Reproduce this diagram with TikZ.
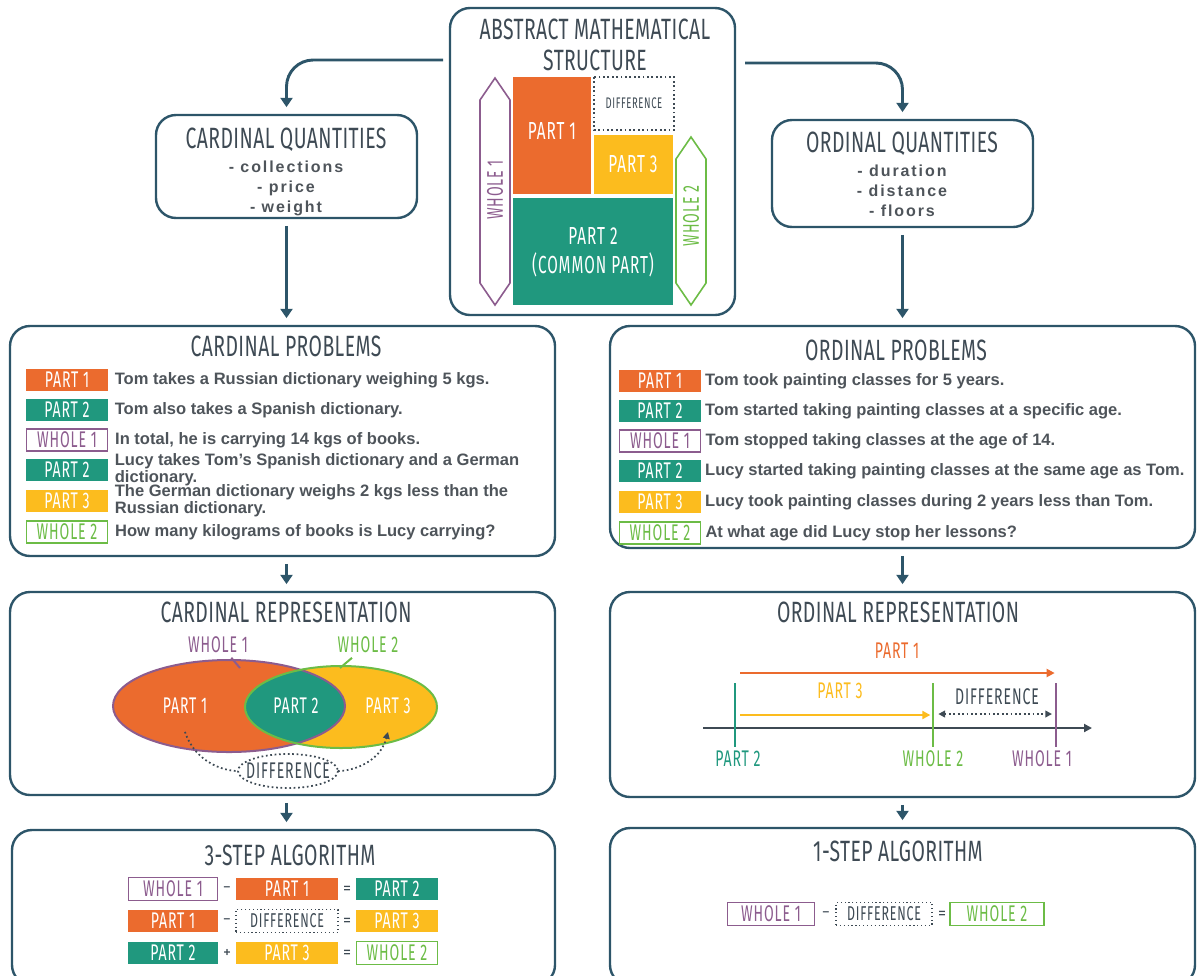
\documentclass[tikz,border=0pt]{standalone}
\usepackage{fontspec}
\setmainfont{Liberation Sans}
\newfontfamily\headfont[FakeStretch=0.66,LetterSpace=1.5]{Fira Sans}
\newfontfamily\tagfont[FakeStretch=0.62,LetterSpace=4]{Fira Sans}
\newfontfamily\listfont[LetterSpace=12]{Liberation Sans}
\usetikzlibrary{arrows.meta,positioning,fit}

\definecolor{boxC}{RGB}{45,85,105}
\definecolor{titleC}{RGB}{62,74,84}
\definecolor{txtC}{RGB}{78,84,90}
\definecolor{orangeC}{RGB}{235,107,46}
\definecolor{tealC}{RGB}{32,152,126}
\definecolor{yellowC}{RGB}{252,188,30}
\definecolor{purpleC}{RGB}{140,92,142}
\definecolor{greenC}{RGB}{108,188,70}

\begin{document}
\begin{tikzpicture}[x=0.75pt, y=-0.75pt,
  panel/.style={draw=boxC, line width=1.8pt, rounded corners=15pt, inner sep=0pt},
  heading/.style={font=\headfont\fontsize{22}{23}\selectfont, text=titleC, align=center},
  items/.style={font=\listfont\bfseries\fontsize{12}{15}\selectfont, text=txtC, align=center},
  flow/.style={draw=boxC, line width=2.2pt, -{Triangle[length=7pt,width=9pt]}, shorten <=5pt, shorten >=5pt},
  tag/.style={font=\tagfont\fontsize{17}{17}\selectfont, minimum width=61pt, minimum height=16.5pt, inner sep=0pt},
  part1/.style={tag, fill=orangeC, text=white},
  part2/.style={tag, fill=tealC, text=white},
  part3/.style={tag, fill=yellowC, text=white},
  whole1/.style={tag, draw=purpleC, line width=0.9pt, text=purpleC},
  whole2/.style={tag, draw=greenC, line width=0.9pt, text=greenC},
  diffbox/.style={tag, draw=titleC, dotted, line width=0.9pt, text=titleC, font=\tagfont\fontsize{15}{15}\selectfont},
  colA/.style={minimum width=67pt, minimum height=17pt},
  colB/.style={minimum width=76.5pt, minimum height=17pt},
  colC/.style={minimum width=61pt, minimum height=17pt},
  prob/.style={font=\bfseries\fontsize{12.4}{10.4}\selectfont, text=txtC, align=left, inner sep=0pt},
  lab/.style={font=\tagfont\fontsize{17}{17}\selectfont},
  biglab/.style={font=\tagfont\fontsize{18.5}{22}\selectfont, text=white, align=center},
  dotline/.style={draw=titleC, dotted, line width=1.3pt},
  op/.style={font=\bfseries\fontsize{9}{9}\selectfont, text=titleC}
]
\useasboundingbox (0,0) rectangle (1201,975);

% panels
\node[panel, fit={(450,8) (735,315)}] (abs) {};
\node[panel, fit={(156,115) (417,218)}] (cardq) {};
\node[panel, fit={(772,120) (1033,227)}] (ordq) {};
\node[panel, fit={(10,326) (555,556)}] (cardp) {};
\node[panel, fit={(610,326) (1195,548)}] (ordp) {};
\node[panel, fit={(10,592) (555,795)}] (cardr) {};
\node[panel, fit={(610,592) (1195,797)}] (ordr) {};
\node[panel, fit={(12,830) (555,985)}] (carda) {};
\node[panel, fit={(610,828) (1195,985)}] (orda) {};

% flow between panels
\coordinate (absl) at (443,60);
\coordinate (absr) at (745,63);
\draw[flow, rounded corners=20pt, shorten <=0pt] (absl) -| (cardq.north);
\draw[flow, rounded corners=20pt, shorten <=0pt] (absr) -| (ordq.north);
\draw[flow] (cardq.south) -- (cardq.south |- cardp.north);
\draw[flow] (ordq.south) -- (ordq.south |- ordp.north);
\draw[flow] (cardq.south |- cardp.south) -- (cardq.south |- cardr.north);
\draw[flow] (ordq.south |- ordp.south) -- (ordq.south |- ordr.north);
\draw[flow] (cardq.south |- cardr.south) -- (cardq.south |- carda.north);
\draw[flow] (ordq.south |- ordr.south) -- (ordq.south |- orda.north);

% abstract structure
\node[heading] (abst) at (595,45) {ABSTRACT MATHEMATICAL\\STRUCTURE};
\fill[orangeC] (513,77) rectangle (591,194);
\draw[titleC, dotted, line width=1.3pt] (594,77) rectangle (674,130);
\fill[yellowC] (594,135) rectangle (673,194);
\fill[tealC] (513,198) rectangle (673,305);
\draw[purpleC, line width=1.2pt] (495,78) -- (510,100) -- (510,283) -- (495,305) -- (480,283) -- (480,100) -- cycle;
\draw[greenC, line width=1.2pt] (691,137) -- (706,159) -- (706,283) -- (691,305) -- (676,283) -- (676,159) -- cycle;
\node[biglab] (s1) at (552,131) {PART 1};
\node[font=\tagfont\fontsize{11.5}{11.5}\selectfont, text=titleC] (sd) at (634,103) {DIFFERENCE};
\node[biglab] (s3) at (633,164) {PART 3};
\node[biglab] (s2) at (593,252) {PART 2\\(COMMON PART)};
\node[lab, text=purpleC, rotate=90] (sw1) at (495,190) {WHOLE 1};
\node[lab, text=greenC, rotate=90] (sw2) at (691,216) {WHOLE 2};

% quantities
\node[heading] (cqt) at (286,140) {CARDINAL QUANTITIES};
\node[items] (cqi) at (286,188) {- collections\\- price\\- weight};
\node[heading] (oqt) at (902,144) {ORDINAL QUANTITIES};
\node[items] (oqi) at (902,191) {- duration\\- distance\\- floors};

% cardinal problems
\node[heading] (cpt) at (286,346) {CARDINAL PROBLEMS};
\node[part1] (cp1) at (67,380) {PART 1};
\node[part2] (cp2) at (67,410) {PART 2};
\node[whole1] (cp3) at (67,440) {WHOLE 1};
\node[part2] (cp4) at (67,470) {PART 2};
\node[part3] (cp5) at (67,501) {PART 3};
\node[whole2] (cp6) at (67,532) {WHOLE 2};
\node[prob, right=5pt of cp1] (cp1t) {Tom takes a Russian dictionary weighing 5 kgs.};
\node[prob, right=5pt of cp2] (cp2t) {Tom also takes a Spanish dictionary.};
\node[prob, right=5pt of cp3] (cp3t) {In total, he is carrying 14 kgs of books.};
\node[prob, right=5pt of cp4] (cp4t) {Lucy takes Tom’s Spanish dictionary and a German\\dictionary.};
\node[prob, right=5pt of cp5] (cp5t) {The German dictionary weighs 2 kgs less than the\\Russian dictionary.};
\node[prob, right=5pt of cp6] (cp6t) {How many kilograms of books is Lucy carrying?};

% ordinal problems
\node[heading] (opt) at (896,350) {ORDINAL PROBLEMS};
\node[part1] (op1) at (660,381) {PART 1};
\node[part2] (op2) at (660,411) {PART 2};
\node[whole1] (op3) at (660,441) {WHOLE 1};
\node[part2] (op4) at (660,471) {PART 2};
\node[part3] (op5) at (660,502) {PART 3};
\node[whole2] (op6) at (660,533) {WHOLE 2};
\node[prob, right=3pt of op1] (op1t) {Tom took painting classes for 5 years.};
\node[prob, right=3pt of op2] (op2t) {Tom started taking painting classes at a specific age.};
\node[prob, right=3pt of op3] (op3t) {Tom stopped taking classes at the age of 14.};
\node[prob, right=3pt of op4] (op4t) {Lucy started taking painting classes at the same age as Tom.};
\node[prob, right=3pt of op5] (op5t) {Lucy took painting classes during 2 years less than Tom.};
\node[prob, right=3pt of op6] (op6t) {At what age did Lucy stop her lessons?};

% cardinal representation
\node[heading] (crt) at (286,612) {CARDINAL REPRESENTATION};
\fill[orangeC] (229,706) ellipse [x radius=116, y radius=46];
\fill[yellowC] (341,707) ellipse [x radius=96, y radius=41];
\begin{scope}
  \clip (229,706) ellipse [x radius=116, y radius=46];
  \fill[tealC] (341,707) ellipse [x radius=96, y radius=41];
\end{scope}
\draw[purpleC, line width=1.5pt] (229,706) ellipse [x radius=116, y radius=46];
\draw[greenC, line width=1.5pt] (341,707) ellipse [x radius=96, y radius=41];
\node[lab, text=white] (v1) at (185,706) {PART 1};
\node[lab, text=white] (v2) at (296,706) {PART 2};
\node[lab, text=white] (v3) at (388,706) {PART 3};
\node[lab, text=purpleC] (vw1) at (218,645) {WHOLE 1};
\node[lab, text=greenC] (vw2) at (368,645) {WHOLE 2};
\draw[purpleC, line width=1.5pt] ([xshift=10pt]vw1.south) -- (240,668);
\draw[greenC, line width=1.5pt] ([xshift=-12pt]vw2.south) -- (340,668);
\node[lab, text=titleC] (vd) at (288,771) {DIFFERENCE};
\draw[dotline] (vd.center) ellipse [x radius=50, y radius=17];
\draw[dotline] ([yshift=-10pt]v1.south) .. controls +(10,30) and +(-15,0) .. ([xshift=-37.5pt]vd.center);
\draw[dotline, -{Triangle[length=5pt,width=5pt]}] ([xshift=37.5pt]vd.center) .. controls +(15,0) and +(-8,30) .. ([yshift=-10pt]v3.south);

% ordinal representation
\node[heading] (ort) at (898,612) {ORDINAL REPRESENTATION};
\coordinate (axl) at (703,728);
\coordinate (axr) at (1092,728);
\coordinate (t2) at (735,683);
\coordinate (tw2) at (933,683);
\coordinate (tw1) at (1056,683);
\draw[titleC, line width=1.6pt, -{Triangle[length=6pt,width=6pt]}] (axl) -- (axr);
\node[lab, text=tealC] (lp2) at (738,759) {PART 2};
\node[lab, text=greenC] (lw2) at (933,759) {WHOLE 2};
\node[lab, text=purpleC] (lw1) at (1042,759) {WHOLE 1};
\draw[tealC, line width=2pt] (t2) -- (t2 |- 0,747);
\draw[greenC, line width=2pt] (tw2) -- (tw2 |- 0,747);
\draw[purpleC, line width=2pt] (tw1) -- (tw1 |- 0,747);
\node[lab, text=orangeC] (lp1) at (897,651) {PART 1};
\node[lab, text=yellowC] (lp3) at (840,691) {PART 3};
\node[lab, text=titleC] (ld) at (997,697) {DIFFERENCE};
\draw[orangeC, line width=2pt, -{Triangle[length=6pt,width=6pt]}] ([xshift=4pt]t2 |- 0,673) -- ([xshift=-1pt]tw1 |- 0,673);
\draw[yellowC, line width=2pt, -{Triangle[length=6pt,width=6pt]}] ([xshift=4pt]t2 |- 0,715) -- ([xshift=-2pt]tw2 |- 0,715);
\draw[dotline, {Triangle[length=5pt,width=5pt]}-{Triangle[length=5pt,width=5pt]}] ([xshift=4pt]tw2 |- 0,714) -- ([xshift=-3pt]tw1 |- 0,714);

% 3-step algorithm
\node[heading] (cat) at (290,855) {3-STEP ALGORITHM};
\node[whole1, colA] (a11) at (173,889) {WHOLE 1};
\node[op] (a12) at (227,889) {–};
\node[part1, colB] (a13) at (287,889) {PART 1};
\node[op] (a14) at (347,889) {=};
\node[part2, colC] (a15) at (397,889) {PART 2};
\node[part1, colA] (a21) at (173,921) {PART 1};
\node[op] (a22) at (227,921) {–};
\node[diffbox, colB] (a23) at (287,921) {DIFFERENCE};
\node[op] (a24) at (347,921) {=};
\node[part3, colC] (a25) at (397,921) {PART 3};
\node[part2, colA] (a31) at (173,953) {PART 2};
\node[op] (a32) at (227,953) {+};
\node[part3, colB] (a33) at (287,953) {PART 3};
\node[op] (a34) at (347,953) {=};
\node[whole2, colC] (a35) at (397,953) {WHOLE 2};

% 1-step algorithm
\node[heading] (oat) at (898,851) {1-STEP ALGORITHM};
\node[whole1, minimum width=65pt, minimum height=17pt] (b1) at (771,914) {WHOLE 1};
\node[op] (b2) at (826,914) {–};
\node[diffbox, minimum width=72pt, minimum height=17pt] (b3) at (884,914) {DIFFERENCE};
\node[op] (b4) at (942,914) {=};
\node[whole2, minimum width=70.5pt, minimum height=17pt] (b5) at (997,914) {WHOLE 2};
\end{tikzpicture}
\end{document}
